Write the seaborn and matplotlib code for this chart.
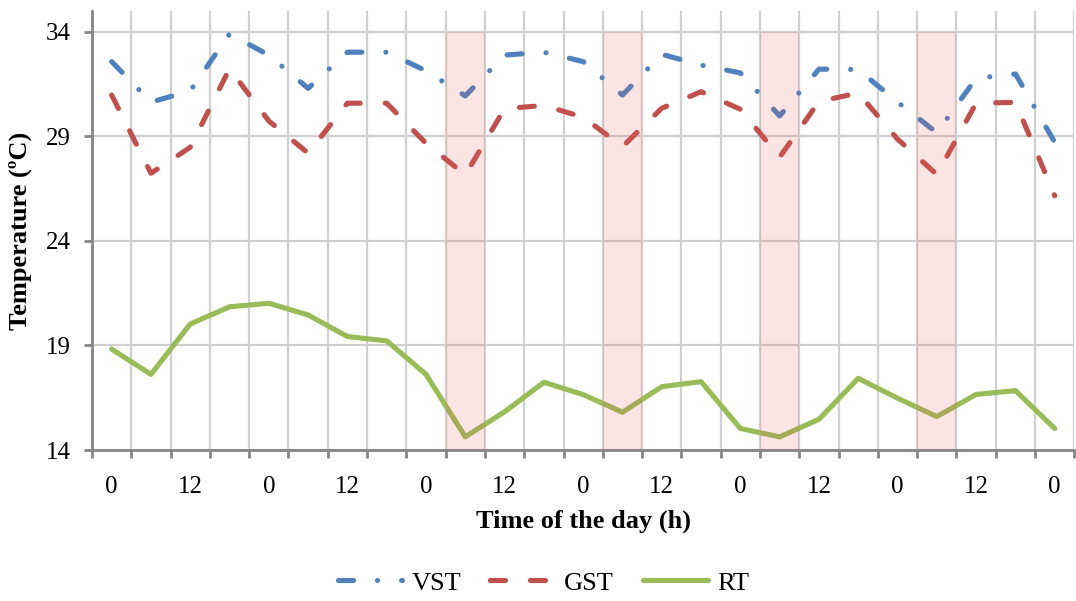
import numpy as np
import pandas as pd
import matplotlib
matplotlib.use("Agg")
import matplotlib.pyplot as plt
import seaborn as sns

# Six-hourly readings over six days
hours = [0, 6, 12, 18, 0, 6, 12, 18, 0, 6, 12, 18, 0,
         6, 12, 18, 0, 6, 12, 18, 0, 6, 12, 18, 0]

vst = [32.58, 30.64, 31.18, 33.90, 32.89, 31.30, 33.03, 33.03, 32.14,
       30.94, 32.89, 33.03, 32.58, 30.98, 32.93, 32.41, 32.04, 29.98,
       32.22, 32.20, 30.64, 29.18, 31.78, 31.99, 28.72]

gst = [30.98, 27.24, 28.48, 32.24, 29.74, 28.20, 30.59, 30.59, 28.67,
       27.16, 30.33, 30.48, 29.92, 28.51, 30.35, 31.14, 30.30, 28.01,
       30.67, 31.08, 28.87, 27.18, 30.59, 30.63, 26.16]

rt = [18.83, 17.62, 20.03, 20.85, 21.02, 20.46, 19.43, 19.22, 17.62,
      14.63, 15.83, 17.24, 16.65, 15.81, 17.03, 17.27, 15.03, 14.63,
      15.47, 17.43, 16.48, 15.60, 16.66, 16.84, 15.03]

# Readings highlighted with a shaded column (06 h on days 3-6)
shaded_idx = [9, 13, 17, 21]
shade_top = 34

y_ticks = [14, 19, 24, 29, 34]

series_names = ["VST", "GST", "RT"]
series_colors = ["#4F81BD", "#C0504D", "#9BBB59"]

sns.set_theme(style="white")
plt.rcParams["font.family"] = ["Liberation Serif", "DejaVu Serif"]
plt.rcParams["lines.scale_dashes"] = False
for key in ["text.color", "axes.labelcolor", "xtick.labelcolor",
            "ytick.labelcolor"]:
    plt.rcParams[key] = "black"

fig = plt.figure(figsize=(10.76, 6.01), dpi=100)
ax = fig.add_axes([0.0855, 0.2512, 0.913, 0.7305])

pos = np.arange(len(hours))
df = pd.DataFrame({"pos": pos, "VST": vst, "GST": gst, "RT": rt})

lw = 3.7
dash_patterns = {
    "VST": (10.8, 17.3, 0.01, 17.3),
    "GST": (10.8, 18.0),
    "RT": None,
}

handles = []
for name, color in zip(series_names, series_colors):
    sns.lineplot(data=df, x="pos", y=name, color=color, linewidth=lw,
                 ax=ax, zorder=2)
    line = ax.lines[-1]
    line.set_solid_joinstyle("round")
    line.set_solid_capstyle("round")
    line.set_dash_capstyle("round")
    line.set_dash_joinstyle("round")
    if dash_patterns[name] is not None:
        line.set_dashes(dash_patterns[name])
    handles.append(line)

if ax.get_legend() is not None:
    ax.get_legend().remove()

# Shaded columns over the highlighted readings
for i in shaded_idx:
    ax.axvspan(i - 0.5, i + 0.5, ymin=0, ymax=(shade_top - 14) / (35 - 14),
               color="#E8585A", alpha=0.16, lw=0, zorder=3)

ax.set_xlim(-0.5, len(hours) - 0.5)
ax.set_ylim(14, 35)

# Category labels every other reading, tick marks on category boundaries
label_pos = pos[::2]
ax.set_xticks(label_pos)
ax.set_xticklabels([str(hours[i]) for i in label_pos])
ax.set_xticks(np.arange(-0.5, len(hours), 1.0), minor=True)
ax.set_yticks(y_ticks)
ax.set_yticklabels([str(v) for v in y_ticks])

ax.tick_params(axis="x", which="major", length=0, pad=19, labelsize=18,
               labelcolor="black")
ax.tick_params(axis="x", which="minor", length=6, width=2, color="#868686",
               direction="out", bottom=True)
ax.tick_params(axis="y", which="major", length=6, width=2, color="#868686",
               direction="out", pad=9, labelsize=18, left=True,
               labelcolor="black")

ax.set_axisbelow(True)
ax.grid(axis="y", which="major", color="#D0D0D0", linewidth=1.6)
ax.grid(axis="x", which="minor", color="#D0D0D0", linewidth=1.6)
ax.grid(axis="x", which="major", visible=False)

for side in ["top", "right"]:
    ax.spines[side].set_visible(False)
for side in ["left", "bottom"]:
    ax.spines[side].set_color("#868686")
    ax.spines[side].set_linewidth(2)
    ax.spines[side].set_zorder(4)

ax.set_xlabel("Time of the day (h)", fontsize=19, fontweight="bold",
              labelpad=8, color="black")
ax.set_ylabel("Temperature (ºC)", fontsize=19, fontweight="bold",
              labelpad=10, color="black")

leg = fig.legend(handles=handles, labels=series_names, loc="center",
                 bbox_to_anchor=(0.505, 0.03), ncol=3, frameon=False,
                 fontsize=19, handlelength=2.45, handletextpad=0.35,
                 columnspacing=1.1)
for txt in leg.get_texts():
    txt.set_color("black")

fig.savefig("out.png", dpi=100)
